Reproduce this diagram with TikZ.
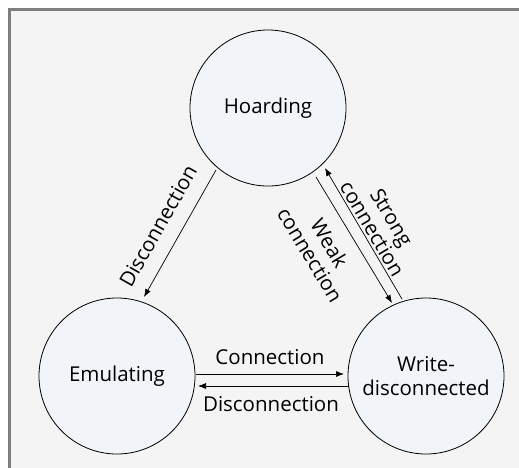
\documentclass[tikz,border=0pt]{standalone}
\usepackage{fontspec}
\setmainfont{Open Sans}
\usetikzlibrary{arrows.meta}
\definecolor{bgc}{HTML}{F4F4F4}
\definecolor{framec}{HTML}{7F7F7F}
\definecolor{statec}{HTML}{F1F5F9}
\tikzset{
  state/.style={circle,draw=black,line width=0.8pt,fill=statec,minimum size=156pt,inner sep=0pt,font=\fontsize{20.5}{24.5}\selectfont,align=center},
  trans/.style={draw=black,line width=0.7pt,-{Latex[length=8pt,width=6pt]}},
  lbl/.style={font=\fontsize{20.5}{22.5}\selectfont,align=center,inner sep=0pt}
}
\begin{document}
\begin{tikzpicture}[x=1pt,y=-1pt]
\useasboundingbox (0,0) rectangle (519,467);
\clip (0,0) rectangle (519,467);
\fill[white] (0,0) rectangle (519,467);
\filldraw[fill=bgc,draw=framec,line width=2.2pt] (9.5,9.5) rectangle (540,490);
\node[state] (H) at (268,108) {Hoarding};
\node[state] (E) at (117,376) {Emulating};
\node[state] (W) at (426,376) {Write-\\disconnected};
% Hoarding -> Emulating
\coordinate (h1) at (216,170);
\coordinate (e1) at (144,297);
\draw[trans] (h1) -- (e1);
\node[lbl,rotate=60.5] (ld) at (158,226) {Disconnection};
% Weak: Hoarding -> Write
\coordinate (h2) at (316,177);
\coordinate (w2) at (392,303);
\draw[trans] (h2) -- (w2);
\node[lbl,rotate=-58.9] (lw) at (320,249) {Weak\\connection};
% Strong: Write -> Hoarding
\coordinate (w3) at (402,299);
\coordinate (h3) at (325,168);
\draw[trans] (w3) -- (h3);
\node[lbl,rotate=-59.5] (ls) at (382,223) {Strong\\connection};
% Connection E -> W
\coordinate (e4) at (196,374);
\coordinate (w4) at (344,374);
\draw[trans] (e4) -- (w4);
\node[lbl] (lc) at (270,357) {Connection};
% Disconnection W -> E
\coordinate (w5) at (349,386);
\coordinate (e5) at (198,386);
\draw[trans] (w5) -- (e5);
\node[lbl] (lx) at (271,404) {Disconnection};
\end{tikzpicture}
\end{document}
